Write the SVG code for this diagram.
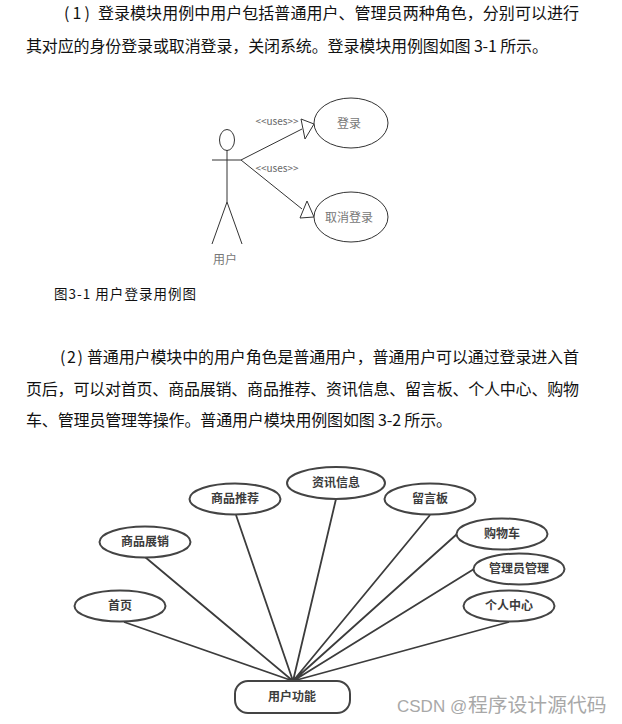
<svg xmlns="http://www.w3.org/2000/svg" width="622" height="724" viewBox="0 0 622 724">
<style>
text{font-family:"Noto Sans CJK SC","Liberation Sans",sans-serif}
.p{font-size:16px;fill:#111}
.c{font-size:13.5px;fill:#111}
.u{font-size:10px;fill:#666;text-anchor:middle}
.n{font-size:12px;fill:#777;text-anchor:middle}
.b{font-size:12px;font-weight:700;fill:#3c3c3c;text-anchor:middle}
.s{fill:#fff;stroke:#333;stroke-width:1}
.l{fill:none;stroke:#333;stroke-width:1}
.e{fill:#fff;stroke:#444;stroke-width:2}
.k{fill:none;stroke:#3c3c3c;stroke-width:1.8}
.w{fill:#a8a8a8}
</style>
<rect width="622" height="724" fill="#fff"/>
<g id="body-text">
<text class="p" x="64" y="19" textLength="26" lengthAdjust="spacing">(1)</text>
<text class="p" x="98" y="19" textLength="481" lengthAdjust="spacing">登录模块用例中用户包括普通用户、管理员两种角色，分别可以进行</text>
<text class="p" x="26" y="52" textLength="522" lengthAdjust="spacing">其对应的身份登录或取消登录，关闭系统。登录模块用例图如图 3-1 所示。</text>
<text class="c" x="54" y="299" textLength="142" lengthAdjust="spacing">图3-1 用户登录用例图</text>
<text class="p" x="60" y="363" textLength="23" lengthAdjust="spacing">(2)</text>
<text class="p" x="87" y="363" textLength="492" lengthAdjust="spacing">普通用户模块中的用户角色是普通用户，普通用户可以通过登录进入首</text>
<text class="p" x="26" y="395" textLength="553" lengthAdjust="spacing">页后，可以对首页、商品展销、商品推荐、资讯信息、留言板、个人中心、购物</text>
<text class="p" x="26" y="426" textLength="426" lengthAdjust="spacing">车、管理员管理等操作。普通用户模块用例图如图 3-2 所示。</text>
</g>
<g id="connectors">
<path class="l" d="M241 160L302 129M241 160L302 209"/>
<path class="s" d="M314 124L301 119L305 139Z"/>
<path class="s" d="M314 217L307 201L300 218Z"/>
<path class="k" d="M124 622L293 681M145 557L293 681M236 515L293 681M336 499L293 681M430 515L293 681M457 534L293 681M474 569L293 681M509 622L293 681"/>
</g>
<text class="u" x="277" y="125">&lt;&lt;uses&gt;&gt;</text>
<text class="u" x="277" y="172">&lt;&lt;uses&gt;&gt;</text>
<g id="actor">
<ellipse class="l" cx="227" cy="140" rx="7.5" ry="10.5"/>
<path class="l" d="M212 160H241M227 150V202L212 244M227 202L242 244"/>
<text class="n" x="225" y="264">用户</text>
</g>
<g id="uc-login"><ellipse class="s" cx="351" cy="123" rx="37" ry="25"/><text class="n" x="349" y="128">登录</text></g>
<g id="uc-cancel"><ellipse class="s" cx="351" cy="217" rx="37" ry="25"/><text class="n" x="349" y="222">取消登录</text></g>
<g id="n-home"><ellipse class="e" cx="120" cy="606" rx="45.5" ry="15.5"/><text class="b" x="120" y="610">首页</text></g>
<g id="n-promo"><ellipse class="e" cx="145" cy="542" rx="45.5" ry="15.5"/><text class="b" x="145" y="546">商品展销</text></g>
<g id="n-rec"><ellipse class="e" cx="235" cy="499" rx="45.5" ry="15.5"/><text class="b" x="235" y="503">商品推荐</text></g>
<g id="n-news"><ellipse class="e" cx="336" cy="483" rx="49" ry="16"/><text class="b" x="336" y="487">资讯信息</text></g>
<g id="n-msg"><ellipse class="e" cx="430" cy="499" rx="45.5" ry="15.5"/><text class="b" x="430" y="503">留言板</text></g>
<g id="n-cart"><ellipse class="e" cx="502" cy="534" rx="45.5" ry="15.5"/><text class="b" x="502" y="538">购物车</text></g>
<g id="n-admin"><ellipse class="e" cx="519" cy="569" rx="45.5" ry="15.5"/><text class="b" x="519" y="573">管理员管理</text></g>
<g id="n-me"><ellipse class="e" cx="509" cy="606" rx="45.5" ry="15.5"/><text class="b" x="509" y="610">个人中心</text></g>
<g id="n-root"><rect class="e" x="235" y="681" width="115" height="32" rx="13" ry="13"/><text class="b" x="292" y="701">用户功能</text></g>
<text class="w" x="397" y="712" font-size="17" style="font-family:'Liberation Sans',sans-serif">CSDN @</text>
<text class="w" x="468" y="712" font-size="19.8">程序设计源代码</text>
</svg>
